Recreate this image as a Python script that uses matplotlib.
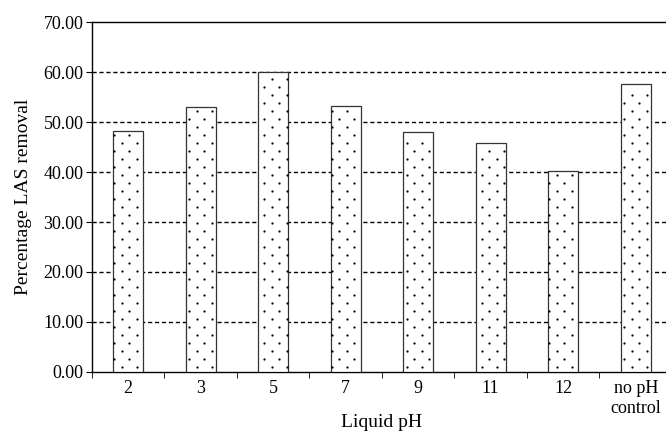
import numpy as np
import matplotlib
matplotlib.use("Agg")
import matplotlib.pyplot as plt

plt.rcParams['font.family'] = ['Liberation Serif', 'DejaVu Serif']

# LAS removal per liquid pH
categories = ['2', '3', '5', '7', '9', '11', '12', 'no pH\ncontrol']
removal = [48.3, 53.1, 60.0, 53.3, 48.0, 45.9, 40.2, 57.7]
yticks = [0, 10, 20, 30, 40, 50, 60, 70]

fig = plt.figure(figsize=(6.66, 4.33), dpi=100)
ax = fig.add_axes([0.138, 0.141, 0.871, 0.808])

x = np.arange(len(categories))
width = 0.41
ax.bar(x, removal, width=width, color='white', edgecolor='#333333',
       linewidth=0.9, zorder=3)

# dotted fill inside the bars: staggered rows of small dots
dx = 7.5 / 72.5      # half spacing within a row, in category units
dy = 1.6             # row spacing, in percent units
for xi, h in zip(x, removal):
    left, right = xi - width / 2, xi + width / 2
    px, py = [], []
    for r, yv in enumerate(np.arange(dy * 0.6, h - 0.8, dy)):
        start = -0.5 + (r % 2) * dx
        cols = np.arange(start, len(categories), 2 * dx)
        cols = cols[(cols > left + 0.01) & (cols < right - 0.01)]
        px.extend(cols)
        py.extend([yv] * len(cols))
    ax.scatter(px, py, s=2.6, color='black', linewidths=0, zorder=4)

ax.set_xlim(-0.5, len(categories) - 0.5)
ax.set_ylim(0, 70)
ax.set_yticks(yticks)
ax.set_yticklabels(['%.2f' % v for v in yticks])

for v in yticks[1:-1]:
    ax.axhline(v, color='black', linestyle=(0, (3, 2)), linewidth=1.0, zorder=1)

ax.set_xticks(x)
ax.set_xticklabels(categories)
ax.set_xticks(np.arange(len(categories) + 1) - 0.5, minor=True)
ax.tick_params(axis='x', which='major', length=0, pad=6, labelsize=13)
ax.tick_params(axis='x', which='minor', length=4, direction='out')
ax.tick_params(axis='y', length=4, direction='out', labelsize=13, pad=2)

ax.spines['right'].set_visible(False)
for s in ['left', 'bottom', 'top']:
    ax.spines[s].set_linewidth(1.0)

ax.set_xlabel('Liquid pH', fontsize=14)
ax.xaxis.set_label_coords(0.5, -0.12)
ax.set_ylabel('Percentage LAS removal', fontsize=14, labelpad=8)

fig.savefig('out.png', dpi=100)
